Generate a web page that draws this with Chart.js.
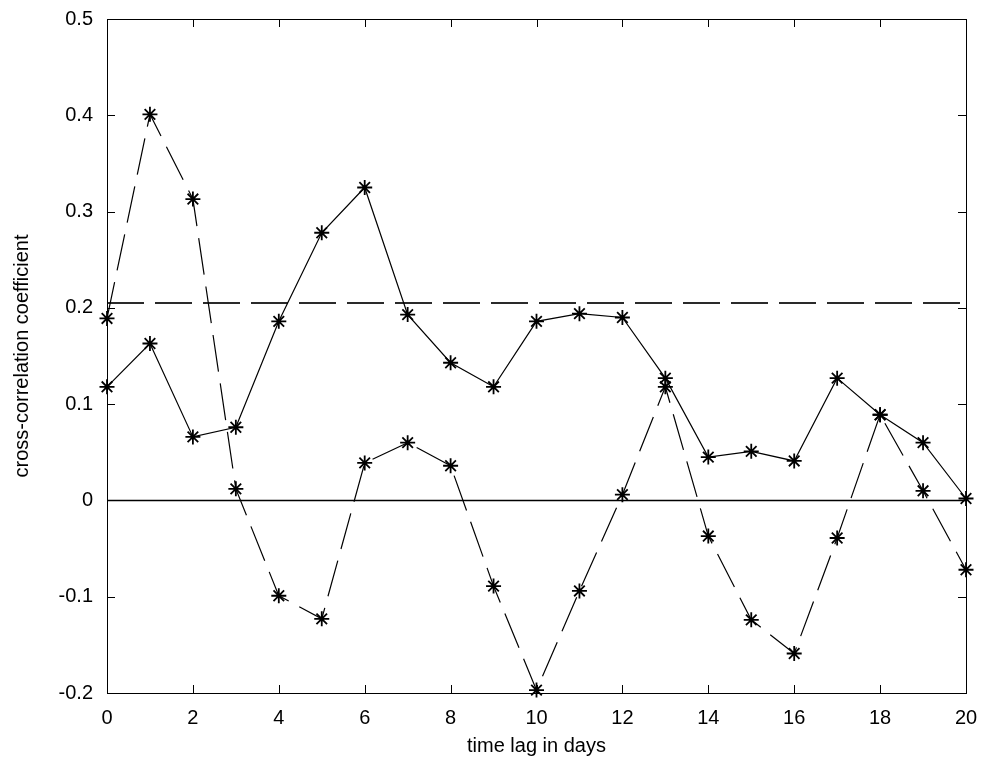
<!DOCTYPE html>
<html>
<head>
<meta charset="utf-8">
<script src="https://cdn.jsdelivr.net/npm/chart.js@4.4.1/dist/chart.umd.min.js"></script>
<style>
  html, body { margin: 0; padding: 0; background: #fff; }
  #wrap { width: 985px; height: 769px; }
</style>
</head>
<body>
<div id="wrap"><canvas id="c" width="985" height="769"></canvas></div>
<script>
// Time lags (days)
const lags = [0,1,2,3,4,5,6,7,8,9,10,11,12,13,14,15,16,17,18,19,20];

// Cross-correlation coefficients, series A (solid line)
const seriesA = [0.118,0.163,0.066,0.076,0.186,0.278,0.325,0.193,0.143,0.118,0.186,
                 0.194,0.190,0.127,0.045,0.051,0.041,0.127,0.089,0.060,0.002];

// Cross-correlation coefficients, series B (dashed line)
const seriesB = [0.189,0.401,0.313,0.012,-0.099,-0.123,0.039,0.060,0.036,-0.089,-0.197,
                 -0.094,0.006,0.118,-0.037,-0.124,-0.159,-0.039,0.089,0.010,-0.072];

// Significance threshold and zero reference
const threshold = 0.205;
const zeroLevel = 0;

// Axis ticks
const xTicks = [0,2,4,6,8,10,12,14,16,18,20];
const yTicks = [-0.2,-0.1,0,0.1,0.2,0.3,0.4,0.5];

const toPts = (xs, ys) => xs.map((x, i) => ({ x: x, y: ys[i] }));
const xMin = lags[0], xMax = lags[lags.length - 1];

const FONT = "'Liberation Sans', Arial, sans-serif";

// Box frame with inward tick marks on all four sides
const framePlugin = {
  id: 'frame',
  afterDraw(chart) {
    const { ctx, chartArea: a, scales } = chart;
    const len = 8;
    ctx.save();
    ctx.strokeStyle = '#000';
    ctx.lineWidth = 1;
    ctx.strokeRect(a.left + 0.5, a.top + 0.5, a.right - a.left, a.bottom - a.top);
    ctx.beginPath();
    xTicks.forEach(v => {
      const px = Math.round(scales.x.getPixelForValue(v)) + 0.5;
      ctx.moveTo(px, a.bottom); ctx.lineTo(px, a.bottom - len);
      ctx.moveTo(px, a.top); ctx.lineTo(px, a.top + len);
    });
    yTicks.forEach(v => {
      const py = Math.round(scales.y.getPixelForValue(v)) + 0.5;
      ctx.moveTo(a.left, py); ctx.lineTo(a.left + len, py);
      ctx.moveTo(a.right, py); ctx.lineTo(a.right - len, py);
    });
    ctx.stroke();
    ctx.restore();
  }
};

new Chart(document.getElementById('c'), {
  type: 'line',
  data: {
    datasets: [
      {
        data: toPts([xMin, xMax], [zeroLevel, zeroLevel]),
        borderColor: '#000', borderWidth: 1.5, pointRadius: 0, order: 4
      },
      {
        data: toPts([xMin, xMax], [threshold, threshold]),
        borderColor: '#2a2a2a', borderWidth: 2, borderDash: [37, 11], pointRadius: 0, order: 3
      },
      {
        data: toPts(lags, seriesB),
        borderColor: '#000', borderWidth: 1.2, borderDash: [37, 12],
        pointStyle: 'star', pointRadius: 7.5, pointBorderColor: '#000', pointBorderWidth: 1.8,
        pointBackgroundColor: '#000', order: 2
      },
      {
        data: toPts(lags, seriesA),
        borderColor: '#000', borderWidth: 1.2,
        pointStyle: 'star', pointRadius: 7.5, pointBorderColor: '#000', pointBorderWidth: 1.8,
        pointBackgroundColor: '#000', order: 1
      }
    ]
  },
  options: {
    responsive: false,
    animation: false,
    clip: false,
    layout: { padding: { top: 19, right: 19, left: 0, bottom: 0 } },
    plugins: { legend: { display: false }, tooltip: { enabled: false } },
    elements: { line: { tension: 0, fill: false } },
    scales: {
      x: {
        type: 'linear', min: xMin, max: xMax,
        grid: { display: false, drawTicks: false },
        border: { display: false },
        afterBuildTicks: s => { s.ticks = xTicks.map(v => ({ value: v })); },
        afterFit: s => { s.height = 76; s.paddingLeft = 0; s.paddingRight = 0; },
        ticks: { color: '#000', padding: 13, font: { family: FONT, size: 20 }, maxRotation: 0,
                 callback: v => String(v) },
        title: { display: true, text: 'time lag in days', color: '#000',
                 font: { family: FONT, size: 20 }, padding: { top: 0, bottom: 11 } }
      },
      y: {
        type: 'linear', min: yTicks[0], max: yTicks[yTicks.length - 1],
        grid: { display: false, drawTicks: false },
        border: { display: false },
        afterBuildTicks: s => { s.ticks = yTicks.slice().reverse().map(v => ({ value: v })); },
        afterFit: s => { s.width = 107; s.paddingTop = 0; s.paddingBottom = 0; },
        ticks: { color: '#000', padding: 14, font: { family: FONT, size: 20 },
                 callback: v => String(Math.round(v * 10) / 10) },
        title: { display: true, text: 'cross-correlation coefficient', color: '#000',
                 font: { family: FONT, size: 20 }, padding: { top: 10, bottom: 0 } }
      }
    }
  },
  plugins: [framePlugin]
});
</script>
</body>
</html>
